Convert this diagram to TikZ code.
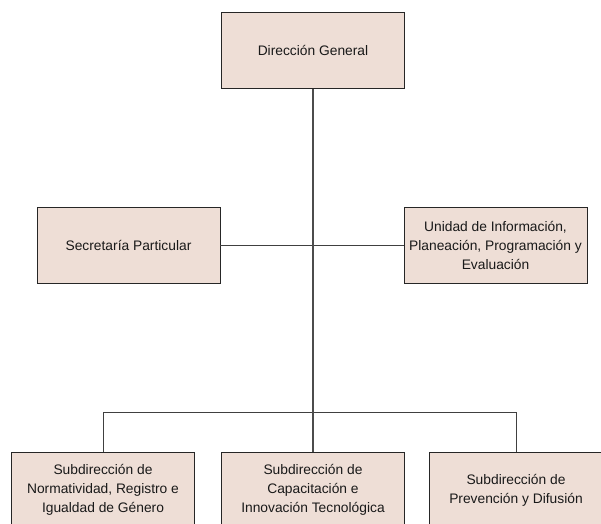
\documentclass[tikz,border=0pt]{standalone}
\usepackage{fontspec}
\setmainfont{Liberation Sans}
\begin{document}
\begin{tikzpicture}[x=1pt,y=-1pt,
  unitbox/.style={draw=black!85,line width=0.9pt,fill={rgb,255:red,238;green,222;blue,214},
    minimum width=183pt,minimum height=76pt,inner sep=0pt,align=center,
    font=\fontsize{13.8}{19}\selectfont,text=black!90},
  conn/.style={draw=black!75,line width=1pt},
  trunkline/.style={draw=black!70,line width=1.8pt}]
\useasboundingbox (0,0) rectangle (601,523);
\clip (0,0) rectangle (601,523);
\node[unitbox] (dg) at (313,50.5) {Dirección General};
\node[unitbox] (sp) at (128.5,245) {Secretaría Particular};
\node[unitbox] (ui) at (495.5,245) {Unidad de Información,\\Planeación, Programación y\\Evaluación};
\node[unitbox,minimum height=75pt] (s1) at (103,490) {Subdirección de\\Normatividad, Registro e\\Igualdad de Género};
\node[unitbox,minimum height=75pt] (s2) at (313,490) {Subdirección de\\Capacitación e\\Innovación Tecnológica};
\node[unitbox,minimum height=75pt,minimum width=174pt] (s3) at (516,490) {Subdirección de\\Prevención y Difusión};
\coordinate (barL) at (103,412);
\coordinate (barR) at (516,412);
\draw[conn] (sp.east) -- (ui.west);
\draw[conn] (s1.north) -- (barL) -- (barR) -- (s3.north);
\draw[trunkline] (dg.south) -- (s2.north);
\end{tikzpicture}
\end{document}
